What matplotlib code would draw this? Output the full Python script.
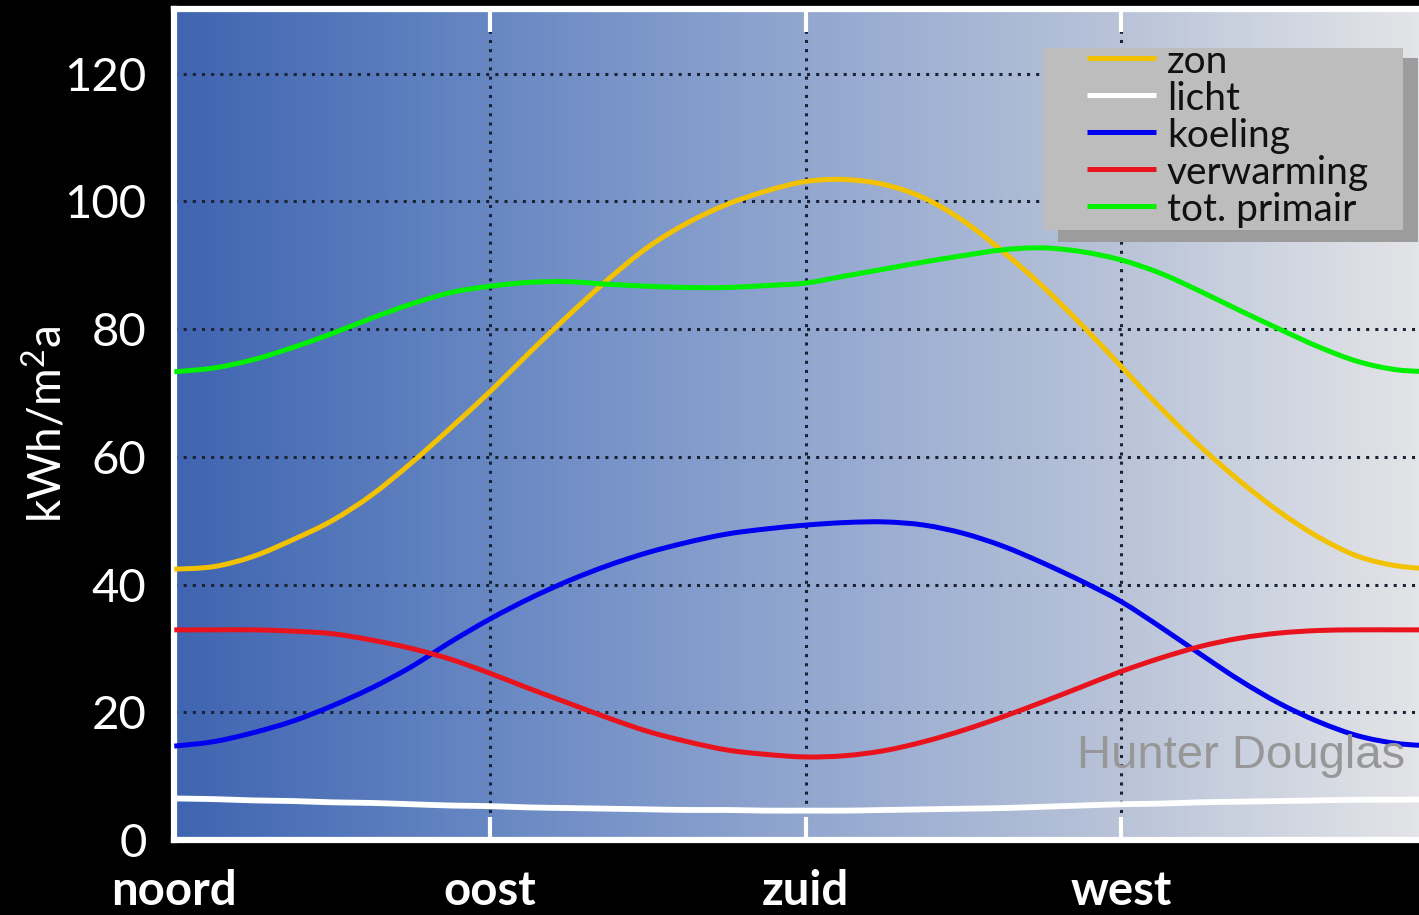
import numpy as np
import matplotlib
matplotlib.use("Agg")
import matplotlib.pyplot as plt
from matplotlib.colors import LinearSegmentedColormap
from matplotlib.patches import Rectangle, PathPatch
from matplotlib.path import Path

plt.rcParams["font.family"] = ["Lato", "DejaVu Sans"]
plt.rcParams["mathtext.fontset"] = "custom"
plt.rcParams["mathtext.rm"] = "Lato"
plt.rcParams["mathtext.it"] = "Lato:italic"
plt.rcParams["mathtext.bf"] = "Lato:bold"

# orientation of the facade, in steps of 1/8 of a quarter turn (0 = noord ... 4 = noord)
orientation = np.arange(33) / 8.0
direction_labels = ["noord", "oost", "zuid", "west"]

zon = [42.4, 42.8, 44.4, 47.0, 50.0, 54.0, 59.0, 64.5, 70.2, 76.3, 82.2, 87.8,
       92.8, 96.6, 99.5, 101.6, 103.1, 103.4, 102.6, 100.5, 96.9, 92.1, 86.7,
       80.6, 74.1, 67.6, 61.6, 56.2, 51.4, 47.4, 44.4, 42.9, 42.4]
licht = [6.5, 6.4, 6.2, 6.1, 5.9, 5.8, 5.6, 5.4, 5.3, 5.1, 5.0, 4.9, 4.8, 4.7,
         4.7, 4.6, 4.6, 4.6, 4.7, 4.8, 4.9, 5.0, 5.2, 5.4, 5.6, 5.7, 5.9, 6.0,
         6.1, 6.2, 6.3, 6.3, 6.4]
koeling = [14.7, 15.4, 16.8, 18.6, 21.0, 23.8, 27.1, 31.0, 34.6, 37.8, 40.6,
           43.0, 45.0, 46.6, 47.9, 48.7, 49.3, 49.7, 49.8, 49.3, 48.0, 46.0,
           43.4, 40.5, 37.3, 33.3, 29.1, 25.0, 21.4, 18.5, 16.3, 15.1, 14.7]
verwarming = [32.9, 32.9, 32.9, 32.7, 32.3, 31.3, 30.0, 28.3, 26.1, 23.7, 21.4,
              19.1, 17.0, 15.4, 14.1, 13.4, 13.0, 13.2, 14.0, 15.4, 17.2, 19.3,
              21.6, 24.0, 26.4, 28.5, 30.3, 31.6, 32.4, 32.8, 32.9, 32.9, 32.9]
tot_primair = [73.3, 73.9, 75.2, 77.1, 79.3, 81.7, 83.9, 85.7, 86.7, 87.3, 87.4,
               87.0, 86.7, 86.5, 86.5, 86.8, 87.2, 88.3, 89.4, 90.5, 91.5, 92.4,
               92.7, 92.1, 90.8, 88.7, 85.9, 82.9, 80.0, 77.2, 74.9, 73.6, 73.3]

series_names = ["zon", "licht", "koeling", "verwarming", "tot. primair"]
series_values = [zon, licht, koeling, verwarming, tot_primair]
series_colors = ["#f2c200", "#ffffff", "#0000f0", "#e8131c", "#00f000"]
y_ticks = [0, 20, 40, 60, 80, 100, 120]


def smooth_path(x, y):
    """Smoothed (Catmull-Rom style) Bezier path through the given points."""
    p = np.column_stack([x, y]).astype(float)
    ext = np.vstack([p[0], p, p[-1]])
    verts = [p[0]]
    codes = [Path.MOVETO]
    for i in range(len(p) - 1):
        p0, p1, p2, p3 = ext[i], ext[i + 1], ext[i + 2], ext[i + 3]
        verts += [p1 + (p2 - p0) / 6.0, p2 - (p3 - p1) / 6.0, p2]
        codes += [Path.CURVE4] * 3
    return Path(verts, codes)


W, H = 1419, 915
fig = plt.figure(figsize=(W / 100, H / 100), dpi=100, facecolor="black")

ax_left, ax_right, ax_top, ax_bottom = 174.3, 1419.0, 9.0, 840.0
ax = fig.add_axes([ax_left / W, (H - ax_bottom) / H,
                   (ax_right - ax_left) / W, (ax_bottom - ax_top) / H])


def px(x, y):
    """Pixel position on the canvas -> axes fraction."""
    return ((x - ax_left) / (ax_right - ax_left),
            (ax_bottom - y) / (ax_bottom - ax_top))


# horizontal blue-to-grey gradient behind the plot
grad = LinearSegmentedColormap.from_list(
    "facade", [(0.0, "#3f64b1"), (0.25, "#6787c3"), (0.5, "#91a6cf"),
               (0.75, "#b7c2d8"), (1.0, "#e3e4e7")])
ax.imshow(np.linspace(0, 1, 256)[None, :], cmap=grad, aspect="auto",
          extent=[0, 1, 0, 1], transform=ax.transAxes, zorder=0)

for name, vals, col in zip(series_names, series_values, series_colors):
    lw = 4.2 if name == "licht" else 3.6
    ax.add_patch(PathPatch(smooth_path(orientation, vals), facecolor="none",
                           edgecolor=col, lw=lw, capstyle="butt", zorder=3))

ax.set_xlim(0, (ax_right - ax_left) / 315.7)
ax.set_ylim(0, 130.1)

ax.set_yticks(y_ticks)
ax.set_yticklabels([str(t) for t in y_ticks])
ax.set_xticks(range(len(direction_labels)))
ax.set_xticklabels(direction_labels)

ax.set_axisbelow(True)
ax.grid(True, color="#1a2234", lw=2.2, linestyle=(0, (1, 2.0)))

ax.tick_params(axis="y", length=0, pad=20, labelsize=34, labelcolor="white")
ax.tick_params(axis="x", direction="in", length=16.5, width=3, color="white",
               top=True, bottom=True, labelsize=34, labelcolor="white", pad=21)
for lab in ax.get_xticklabels():
    lab.set_fontweight("bold")

for side in ("left", "top", "bottom"):
    ax.spines[side].set_color("white")
    ax.spines[side].set_linewidth(4.5)
ax.spines["right"].set_visible(False)

ax.set_ylabel(r"kWh/m$^{\mathrm{2}}$a", color="white", fontsize=33)
ax.yaxis.set_label_coords(px(70, 0)[0], 0.5)

# watermark
hx, hy = px(1077, 768)
ax.text(hx, hy, "Hunter Douglas", transform=ax.transAxes, color="#979797",
        fontsize=34, family=["Liberation Sans", "DejaVu Sans"],
        ha="left", va="baseline", zorder=4)

# legend box with drop shadow
sx0, sy0 = px(1058, 242)
sx1, sy1 = px(1418, 58)
ax.add_patch(Rectangle((sx0, sy0), sx1 - sx0, sy1 - sy0, transform=ax.transAxes,
                       facecolor="#9c9c9c", edgecolor="none", zorder=5,
                       clip_on=False))
bx0, by0 = px(1043, 230)
bx1, by1 = px(1403, 48)
ax.add_patch(Rectangle((bx0, by0), bx1 - bx0, by1 - by0, transform=ax.transAxes,
                       facecolor="#bdbdbd", edgecolor="none", zorder=6,
                       clip_on=False))
row_y = [58, 95, 132, 169, 206]
for name, col, ry in zip(series_names, series_colors, row_y):
    (lx0, ly), (lx1, _) = px(1087, ry), px(1156, ry)
    ax.plot([lx0, lx1], [ly, ly], transform=ax.transAxes, color=col, lw=3.6,
            solid_capstyle="butt", zorder=7, clip_on=False)
    tx, ty = px(1167, ry + 15)
    ax.text(tx, ty, name, transform=ax.transAxes, color="#111111",
            fontsize=28, ha="left", va="baseline", zorder=7)

fig.savefig("out.png", dpi=100, facecolor="black")
